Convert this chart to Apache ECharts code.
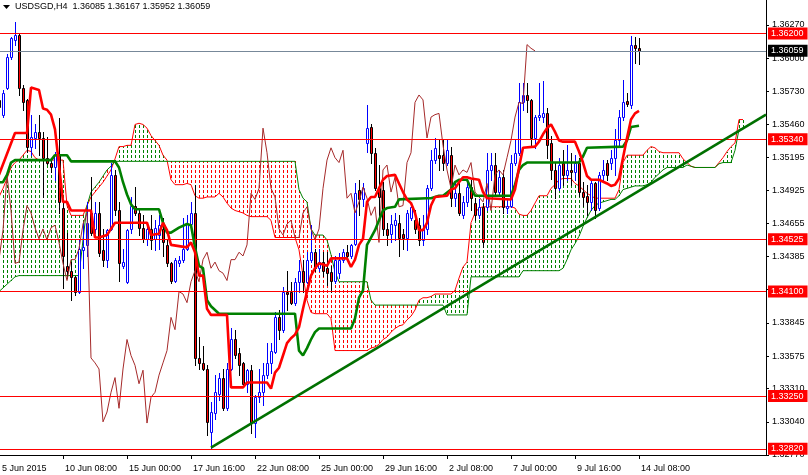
<!DOCTYPE html>
<html><head><meta charset="utf-8">
<script src="https://cdn.jsdelivr.net/npm/echarts@6/dist/echarts.min.js"></script>
<style>html,body{margin:0;padding:0;background:#fff}#c{width:808px;height:475px}</style>
</head><body><div id="c"></div>
<script>
// ---- candles (bar index 0 = 5 Jun 16:00, H4) ----
const opens=[
1.3566,1.3554,1.3576,1.3601,1.3615,1.3619,1.3576,1.3566,1.3528,1.3535,
1.3540,1.3535,1.3519,1.3515,1.3511,1.3521,1.3478,1.3431,1.3427,1.3422,
1.3410,1.3444,1.3448,1.3474,1.3461,1.3474,1.3444,1.3436,1.3461,1.3505,
1.3476,1.3431,1.3418,1.3461,1.3480,1.3474,1.3462,1.3453,1.3461,1.3453,
1.3456,1.3461,1.3448,1.3433,1.3419,1.3433,1.3436,1.3445,1.3465,1.3474,
1.3356,1.3352,1.3347,1.3296,1.3311,1.3327,1.3340,1.3315,1.3347,1.3371,
1.3360,1.3352,1.3335,1.3346,1.3303,1.3324,1.3328,1.3342,1.3352,1.3361,
1.3389,1.3379,1.3410,1.3410,1.3401,1.3418,1.3427,1.3418,1.3436,1.3442,
1.3429,1.3434,1.3429,1.3426,1.3419,1.3425,1.3436,1.3442,1.3439,1.3449,
1.3493,1.3485,1.3531,1.3544,1.3523,1.3494,1.3493,1.3461,1.3457,1.3464,
1.3466,1.3457,1.3454,1.3470,1.3468,1.3464,1.3452,1.3461,1.3494,1.3517,
1.3521,1.3521,1.3515,1.3521,1.3486,1.3490,1.3472,1.3483,1.3495,1.3482,
1.3472,1.3479,1.3479,1.3509,1.3513,1.3491,1.3503,1.3478,1.3480,1.3515,
1.3523,1.3564,1.3570,1.3566,1.3535,1.3552,1.3552,1.3555,1.3531,1.3509,
1.3494,1.3515,1.3505,1.3509,1.3507,1.3515,1.3491,1.3488,1.3483,1.3498,
1.3478,1.3505,1.3515,1.3515,1.3519,1.3533,1.3552,1.3565,1.3562,1.3611,
1.36085];
const highs=[
1.3594,1.3574,1.3603,1.3617,1.3629,1.3620,1.3578,1.3567,1.3554,1.3546,
1.3554,1.3540,1.3536,1.3519,1.3524,1.3551,1.3483,1.3458,1.3434,1.3423,
1.3453,1.3466,1.3483,1.3503,1.3483,1.3483,1.3461,1.3461,1.3515,1.3509,
1.3483,1.3445,1.3461,1.3487,1.3495,1.3476,1.3472,1.3466,1.3472,1.3468,
1.3472,1.3470,1.3452,1.3434,1.3437,1.3439,1.3470,1.3472,1.3483,1.3497,
1.3373,1.3366,1.3350,1.3320,1.3342,1.3344,1.3347,1.3352,1.3380,1.3379,
1.3364,1.3353,1.3347,1.3350,1.3326,1.3347,1.3352,1.3368,1.3368,1.3393,
1.3395,1.3414,1.3427,1.3418,1.3421,1.3436,1.3436,1.3442,1.3464,1.3445,
1.3445,1.3442,1.3442,1.3431,1.3439,1.3441,1.3445,1.3448,1.3449,1.3498,
1.3501,1.3498,1.3562,1.3546,1.3527,1.3513,1.3499,1.3466,1.3472,1.3474,
1.3472,1.3461,1.3476,1.3480,1.3476,1.3470,1.3472,1.3497,1.3525,1.3535,
1.3533,1.3533,1.3533,1.3528,1.3499,1.3502,1.3488,1.3499,1.3501,1.3486,
1.3485,1.3482,1.3523,1.3523,1.3523,1.3509,1.3509,1.3485,1.3521,1.3533,
1.3580,1.3580,1.3580,1.3567,1.3554,1.3580,1.3581,1.3559,1.3537,1.3515,
1.3519,1.3525,1.3529,1.3523,1.3521,1.3519,1.3499,1.3497,1.3502,1.3499,
1.3507,1.3517,1.3517,1.3525,1.3542,1.3558,1.3582,1.3572,1.3618,1.3617,
1.36167];
const lows=[
1.3554,1.3552,1.3575,1.3599,1.3611,1.3570,1.3558,1.3524,1.3521,1.3527,
1.3521,1.3487,1.3514,1.3507,1.3501,1.3474,1.3413,1.3421,1.3403,1.3407,
1.3409,1.3429,1.3439,1.3456,1.3458,1.3439,1.3431,1.3430,1.3460,1.3472,
1.3419,1.3429,1.3417,1.3458,1.3472,1.3456,1.3450,1.3448,1.3445,1.3444,
1.3445,1.3439,1.3431,1.3417,1.3418,1.3431,1.3434,1.3444,1.3464,1.3350,
1.3347,1.3346,1.3293,1.3282,1.3306,1.3322,1.3314,1.3314,1.3346,1.3356,
1.3342,1.3334,1.3328,1.3295,1.3292,1.3320,1.3318,1.3340,1.3344,1.3360,
1.3371,1.3377,1.3395,1.3400,1.3399,1.3410,1.3410,1.3417,1.3434,1.3427,
1.3427,1.3423,1.3415,1.3410,1.3417,1.3421,1.3434,1.3437,1.3437,1.3448,
1.3472,1.3480,1.3524,1.3515,1.3493,1.3468,1.3456,1.3448,1.3450,1.3452,
1.3439,1.3445,1.3444,1.3468,1.3458,1.3448,1.3448,1.3457,1.3493,1.3515,
1.3509,1.3509,1.3513,1.3480,1.3480,1.3472,1.3470,1.3480,1.3476,1.3468,
1.3470,1.3446,1.3476,1.3501,1.3488,1.3488,1.3474,1.3474,1.3479,1.3513,
1.3521,1.3558,1.3556,1.3529,1.3527,1.3550,1.3548,1.3519,1.3502,1.3486,
1.3493,1.3497,1.3501,1.3497,1.3501,1.3488,1.3480,1.3472,1.3476,1.3470,
1.3476,1.3499,1.3501,1.3510,1.3505,1.3529,1.3550,1.3561,1.3559,1.3596,
1.35952];
const closes=[
1.3560,1.3572,1.3601,1.3616,1.3619,1.3576,1.3564,1.3528,1.3536,1.3540,
1.3535,1.3519,1.3515,1.3511,1.3521,1.3483,1.3439,1.3427,1.3422,1.3410,
1.3445,1.3446,1.3466,1.3458,1.3474,1.3441,1.3436,1.3460,1.3505,1.3476,
1.3433,1.3434,1.3460,1.3480,1.3474,1.3462,1.3453,1.3461,1.3452,1.3462,
1.3464,1.3450,1.3433,1.3419,1.3436,1.3436,1.3445,1.3465,1.3474,1.3356,
1.3352,1.3347,1.3304,1.3312,1.3328,1.3340,1.3315,1.3347,1.3371,1.3358,
1.3350,1.3335,1.3346,1.3303,1.3324,1.3328,1.3342,1.3352,1.3362,1.3389,
1.3379,1.3410,1.3408,1.3401,1.3418,1.3427,1.3418,1.3436,1.3442,1.3429,
1.3434,1.3427,1.3425,1.3419,1.3436,1.3436,1.3442,1.3439,1.3448,1.3490,
1.3485,1.3494,1.3543,1.3523,1.3494,1.3487,1.3461,1.3456,1.3465,1.3468,
1.3454,1.3454,1.3474,1.3479,1.3461,1.3452,1.3461,1.3494,1.3517,1.3527,
1.3519,1.3515,1.3525,1.3486,1.3490,1.3474,1.3483,1.3495,1.3486,1.3472,
1.3479,1.3450,1.3509,1.3513,1.3491,1.3503,1.3479,1.3480,1.3515,1.3523,
1.3564,1.3570,1.3566,1.3535,1.3552,1.3554,1.3555,1.3529,1.3509,1.3494,
1.3513,1.3505,1.3509,1.3507,1.3515,1.3491,1.3487,1.3483,1.3498,1.3476,
1.3505,1.3509,1.3505,1.3519,1.3533,1.3552,1.3564,1.3563,1.3611,1.3608,
1.36059];

// ---- Ichimoku lines: [bar index, price] vertices ----
const tenkan=[[0,1.3505],[4,1.3539],[7,1.3539],[8,1.3576],[10,1.3574],[11,1.3559],[12,1.3558],[13,1.3554],[14,1.3542],[15,1.3513],
[16,1.3483],[17,1.3483],[18,1.3476],[23,1.3476],[24,1.3454],[25,1.3454],[27,1.3456],[28,1.3461],[29,1.3466],[37,1.3466],
[38,1.3456],[40,1.3457],[41,1.3466],[42,1.3460],[43,1.3448],[47,1.3446],[48,1.3450],[49,1.3442],[50,1.3423],[51,1.3423],
[52,1.3396],[53,1.3391],[57,1.3391],[58,1.3332],[61,1.3332],[62,1.3336],[67,1.3336],[68,1.3331],[69,1.3344],[70,1.3348],
[71,1.3358],[72,1.3368],[73,1.3372],[74,1.3375],[75,1.3381],[76,1.3396],[77,1.3410],[78,1.3423],[79,1.3429],[80,1.3433],
[82,1.3431],[83,1.3437],[87,1.3437],[88,1.3430],[89,1.3436],[90,1.3448],[91,1.3453],[92,1.3483],[93,1.3487],[94,1.3487],
[95,1.3494],[96,1.3501],[97,1.3504],[99,1.3505],[100,1.3498],[101,1.3491],[102,1.3485],[103,1.3482],[104,1.3474],[105,1.3460],
[106,1.3460],[107,1.3466],[108,1.3480],[109,1.3487],[112,1.3488],[113,1.3493],[114,1.3494],[115,1.3499],[116,1.3503],[117,1.3503],
[118,1.3502],[120,1.3501],[121,1.3491],[122,1.3486],[128,1.3485],[129,1.3493],[130,1.3511],[131,1.3527],[134,1.3528],[135,1.3532],
[136,1.3538],[137,1.3543],[138,1.3546],[139,1.3540],[140,1.3533],[141,1.3532],[144,1.3532],[145,1.3524],[146,1.3515],[147,1.3504],
[148,1.3501],[150,1.3501],[152,1.3498],[153,1.3496],[154,1.3497],[155,1.3502],[156,1.3519],[157,1.3535],[158,1.3550],[159,1.3555],
[160,1.3557]];
const kijun=[[0,1.3499],[1,1.3499],[2,1.3505],[3,1.3515],[4,1.3517],[13,1.3517],[14,1.3521],[17,1.3521],[18,1.3516],[29,1.3516],
[30,1.3511],[31,1.3499],[32,1.3489],[33,1.3481],[34,1.3477],[40,1.3477],[41,1.3466],[42,1.3458],[43,1.3458],[44,1.3460],
[45,1.3462],[47,1.3465],[48,1.3464],[49,1.3446],[50,1.3431],[51,1.3429],[52,1.3403],[53,1.3398],[54,1.3395],[55,1.3392],
[74,1.3392],[75,1.3362],[76,1.3358],[77,1.3364],[78,1.3371],[79,1.3377],[80,1.3380],[88,1.3380],[89,1.3388],[90,1.3405],
[91,1.3411],[92,1.3448],[93,1.3454],[94,1.3460],[95,1.3468],[96,1.3476],[97,1.3478],[99,1.3479],[100,1.3485],[107,1.3486],
[108,1.3486],[110,1.3488],[111,1.3488],[113,1.3493],[114,1.3499],[115,1.3501],[117,1.3501],[118,1.3494],[119,1.3488],[128,1.3488],
[129,1.3497],[130,1.3509],[131,1.3513],[132,1.3515],[145,1.3515],[146,1.3520],[147,1.3527],[156,1.3528],[157,1.3533],[158,1.3544],
[160,1.3545]];
// Senkou span A / B per bar, bars 0..186 (26 bars projected ahead)
const spanA=[
1.3487,1.3494,1.3502,1.3511,1.3515,1.3517,1.3521,1.3525,1.3524,1.3519,
1.3517,1.3517,1.3517,1.3517,1.3517,1.3517,1.3517,1.3480,1.3472,1.3472,
1.3472,1.3472,1.3480,1.3487,1.3491,1.3495,1.3499,1.3504,1.3509,1.3518,
1.3528,1.3528,1.3529,1.3529,1.3546,1.3547,1.3546,1.3543,1.3537,1.3533,
1.3529,1.3521,1.3517,1.3501,1.3497,1.3497,1.3497,1.3498,1.3497,1.3488,
1.3486,1.3486,1.3487,1.3487,1.3487,1.3490,1.3487,1.3482,1.3478,1.3476,
1.3475,1.3474,1.3472,1.3471,1.3471,1.3471,1.3471,1.3471,1.3468,1.3454,
1.3454,1.3454,1.3454,1.3454,1.3454,1.3444,1.3423,1.3403,1.3393,1.3392,
1.3392,1.3392,1.3392,1.3388,1.3362,1.3362,1.3362,1.3362,1.3362,1.3362,
1.3362,1.3362,1.3362,1.3364,1.3365,1.3367,1.3371,1.3373,1.3377,1.3380,
1.3382,1.3383,1.3387,1.3390,1.3395,1.3403,1.3405,1.3405,1.3406,1.3408,
1.3408,1.3408,1.3408,1.3408,1.3411,1.3421,1.3430,1.3434,1.3466,1.3474,
1.3478,1.3479,1.3479,1.3479,1.3479,1.3479,1.3479,1.3479,1.3479,1.3478,
1.3473,1.3472,1.3472,1.3476,1.3482,1.3488,1.3488,1.3488,1.3494,1.3497,
1.3501,1.3502,1.3502,1.3502,1.3498,1.3496,1.3493,1.3490,1.3488,1.3486,
1.3486,1.3486,1.3486,1.3486,1.3486,1.3493,1.3515,1.3521,1.3521,1.3521,
1.3521,1.3521,1.3525,1.3528,1.3527,1.3524,1.3523,1.3523,1.3523,1.3523,
1.3523,1.3518,1.3515,1.3512,1.3511,1.3511,1.3511,1.3511,1.3511,1.3511,
1.3515,1.3519,1.3524,1.3528,1.3531,1.3550,1.3550];
const spanB=[
1.3410,1.3413,1.3416,1.3419,1.3422,1.3423,1.3423,1.3423,1.3423,1.3423,
1.3423,1.3423,1.3423,1.3423,1.3423,1.3423,1.3423,1.3423,1.3423,1.3423,
1.3423,1.3452,1.3480,1.3491,1.3495,1.3499,1.3504,1.3509,1.3512,1.3516,
1.3516,1.3516,1.3516,1.3516,1.3516,1.3516,1.3516,1.3516,1.3516,1.3516,
1.3516,1.3516,1.3516,1.3516,1.3516,1.3516,1.3516,1.3516,1.3516,1.3516,
1.3516,1.3516,1.3516,1.3516,1.3516,1.3516,1.3516,1.3516,1.3516,1.3516,
1.3516,1.3516,1.3516,1.3516,1.3516,1.3516,1.3516,1.3516,1.3516,1.3516,
1.3516,1.3516,1.3516,1.3516,1.3516,1.3493,1.3486,1.3483,1.3461,1.3456,
1.3456,1.3456,1.3452,1.3440,1.3426,1.3418,1.3418,1.3418,1.3418,1.3418,
1.3418,1.3418,1.3418,1.3403,1.3399,1.3399,1.3399,1.3399,1.3399,1.3399,
1.3399,1.3399,1.3399,1.3399,1.3399,1.3399,1.3399,1.3399,1.3399,1.3399,
1.3399,1.3399,1.3391,1.3391,1.3391,1.3391,1.3391,1.3391,1.3422,1.3422,
1.3422,1.3422,1.3422,1.3422,1.3422,1.3422,1.3422,1.3422,1.3422,1.3422,
1.3422,1.3427,1.3427,1.3427,1.3427,1.3427,1.3427,1.3427,1.3427,1.3427,
1.3427,1.3429,1.3436,1.3444,1.3449,1.3455,1.3463,1.3470,1.3476,1.3480,
1.3482,1.3483,1.3484,1.3485,1.3485,1.3488,1.3493,1.3494,1.3495,1.3496,
1.3496,1.3496,1.3497,1.3499,1.3503,1.3506,1.3509,1.3511,1.3511,1.3511,
1.3511,1.3511,1.3513,1.3512,1.3511,1.3511,1.3511,1.3511,1.3511,1.3511,
1.3514,1.3515,1.3515,1.3515,1.3525,1.3542,1.3543];
const chikouShift=26; // lagging span = closes drawn 26 bars back

// ---- drawn objects ----
const trendLine=[[53,1.3283],[191.75,1.3554]];
const redLevels=[1.36200,1.35340,1.34525,1.34100,1.33250,1.32820];
const bidLevel=1.36059;

// ---- axes ----
const yTickValues=[1.36270,1.36000,1.35730,1.35460,1.35195,1.34925,1.34655,1.34385,1.34115,1.33845,1.33575,1.33310,1.33040,1.32770];
const xLabelBars=[0.25,16,32,48,64,80,96,112,128,144,160];
const xTickBars=[16,32,48,64,80,96,112,128,144,160];
const xLabels=['5 Jun 2015','10 Jun 08:00','15 Jun 00:00','17 Jun 16:00','22 Jun 08:00','25 Jun 00:00','29 Jun 16:00','2 Jul 08:00','7 Jul 00:00','9 Jul 16:00','14 Jul 08:00'];
const titleText='USDSGD,H4  1.36085 1.36167 1.35952 1.36059';

const FONT="'Liberation Sans',Arial,sans-serif";
const FS=9;

const candleData=opens.map((o,i)=>[i,o,closes[i],lows[i],highs[i]]);
const cloudData=spanA.map((a,i)=>[i,a,spanB[i]]);
const chikouData=closes.slice(chikouShift).map((c,k)=>[k,c]);

function renderCandle(params,api){
  const i=api.value(0),o=api.value(1),c=api.value(2),l=api.value(3),h=api.value(4);
  const px=Math.round(api.coord([i,o])[0]);
  const yo=Math.round(api.coord([i,o])[1]),yc=Math.round(api.coord([i,c])[1]);
  const yh=Math.round(api.coord([i,h])[1]),yl=Math.round(api.coord([i,l])[1]);
  const bull=c>=o;
  const col=bull?'#0000ff':'#000000';
  const top=Math.min(yo,yc),bot=Math.max(yo,yc);
  return {type:'group',children:[
    {type:'line',shape:{x1:px+0.5,y1:yh,x2:px+0.5,y2:yl+1},style:{stroke:col,lineWidth:1}},
    {type:'rect',shape:{x:px-0.5,y:top+0.5,width:2,height:Math.max(bot-top,0)},style:{fill:bull?'#ffffff':'#ff0000',stroke:col,lineWidth:1}}
  ]};
}
function renderHatch(params,api){
  const i=api.value(0),a=api.value(1),b=api.value(2);
  const pa=api.coord([i,a]),pb=api.coord([i,b]);
  const x=Math.round(pa[0])+0.5;
  const y1=Math.round(Math.min(pa[1],pb[1])),y2=Math.round(Math.max(pa[1],pb[1]));
  if(y2-y1<2) return null;
  return {type:'line',shape:{x1:x,y1:y1,x2:x,y2:y2},
    style:{stroke:a>b?'#008000':'#ff0000',lineWidth:1,lineDash:[3,2],lineDashOffset:y1%5}};
}

const chart=echarts.init(document.getElementById('c'),null,{renderer:'canvas'});
const lvlLabel=(bg)=>({show:true,position:'end',distance:2,formatter:p=>Number(p.value).toFixed(5),
  backgroundColor:bg,color:'#fff',padding:[2,4,1,3],fontSize:FS,fontFamily:FONT});
chart.setOption({
  animation:false,
  backgroundColor:'#ffffff',
  grid:{left:0,right:42,top:0,bottom:20,containLabel:false,outerBoundsMode:'none'},
  xAxis:{type:'value',min:0.25,max:191.75,
    axisLine:{show:true,onZero:false,lineStyle:{color:'#000',width:1}},
    axisTick:{show:true,customValues:xTickBars,length:4,lineStyle:{color:'#000'}},
    axisLabel:{customValues:xLabelBars,formatter:v=>{const k=xLabelBars.indexOf(v);return k>=0?xLabels[k]:'';},
      align:'left',padding:[0,0,0,2],margin:9,color:'#000',fontSize:FS,fontFamily:FONT},
    splitLine:{show:false}},
  yAxis:{type:'value',position:'right',min:1.3277,max:1.36473,
    axisLine:{show:true,onZero:false,lineStyle:{color:'#000',width:1}},
    axisTick:{show:true,customValues:yTickValues,length:3,lineStyle:{color:'#000'}},
    axisLabel:{customValues:yTickValues,formatter:v=>v.toFixed(5),margin:6,color:'#000',fontSize:FS,fontFamily:FONT},
    splitLine:{show:false}},
  graphic:[
    {type:'polygon',shape:{points:[[3,5],[10,5],[6.5,9]]},style:{fill:'#000'}},
    {type:'text',left:15,top:2,style:{text:titleText,fill:'#000',fontSize:FS,fontFamily:FONT}}
  ],
  series:[
    {type:'custom',name:'cloud',renderItem:renderHatch,data:cloudData,encode:{x:0,y:[1,2]},z:1,clip:true,silent:true},
    {type:'line',name:'Senkou A',data:spanA.map((v,i)=>[i,v]),showSymbol:false,lineStyle:{color:'#ff0000',width:1},z:2,silent:true},
    {type:'line',name:'Senkou B',data:spanB.map((v,i)=>[i,v]),showSymbol:false,lineStyle:{color:'#008000',width:1},z:2,silent:true},
    {type:'custom',name:'USDSGD',renderItem:renderCandle,data:candleData,encode:{x:0,y:[1,2,3,4]},z:3,clip:true},
    {type:'line',name:'Chikou',data:chikouData,showSymbol:false,lineStyle:{color:'#a52a2a',width:1},z:4,silent:true},
    {type:'line',name:'Kijun',data:kijun,showSymbol:false,lineStyle:{color:'#008000',width:2.6},z:5,silent:true},
    {type:'line',name:'Tenkan',data:tenkan,showSymbol:false,lineStyle:{color:'#ff0000',width:2.6},z:5,silent:true},
    {type:'line',name:'levels',data:[],z:6,silent:true,
      markLine:{silent:true,precision:5,symbol:['none','none'],animation:false,
        data:redLevels.map(v=>({yAxis:v,lineStyle:{color:'#ff0000',width:1,type:'solid'},label:lvlLabel('#ff0000')}))
          .concat([{yAxis:bidLevel,lineStyle:{color:'#778899',width:1,type:'solid'},label:lvlLabel('#000000')}])}},
    {type:'line',name:'trend',data:trendLine,showSymbol:false,lineStyle:{color:'#007000',width:2.6},z:7,silent:true}
  ]
});
</script></body></html>
